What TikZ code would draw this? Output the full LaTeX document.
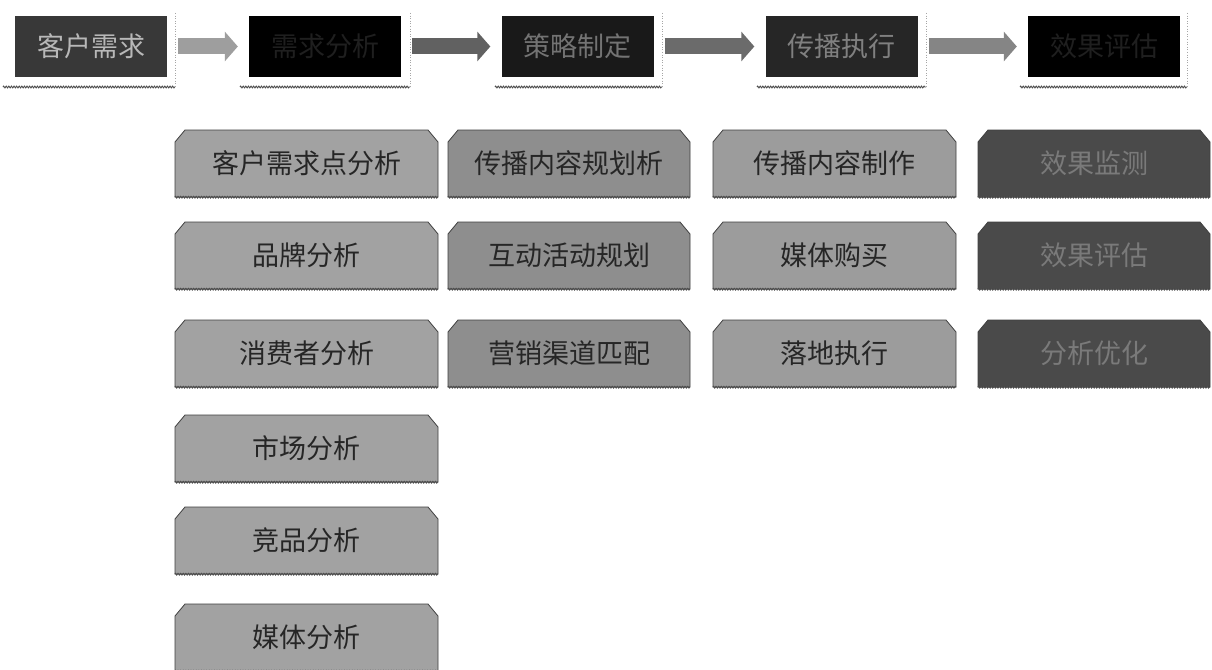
\documentclass[tikz,border=0pt]{standalone}
\usepackage{fontspec}
\newfontfamily\cjk{Noto Sans CJK SC}
\usetikzlibrary{decorations.pathmorphing,arrows.meta}
\definecolor{colA}{HTML}{A2A2A2}
\definecolor{colB}{HTML}{8E8E8E}
\definecolor{colC}{HTML}{9C9C9C}
\definecolor{colD}{HTML}{4A4A4A}
\tikzset{
  x=1pt,y=-1pt,
  topbox/.style={rectangle,inner sep=0pt,minimum width=152pt,minimum height=61pt,
    font=\cjk\fontsize{27}{28}\selectfont},
  subtext/.style={rectangle,inner sep=0pt,minimum height=67pt,
    font=\cjk\fontsize{27}{28}\selectfont,text=black!85},
  subshape/.style={draw=black!75,line width=0.8pt,line join=miter},
  zz/.style={draw=black!70,line width=0.9pt,decorate,
    decoration={zigzag,amplitude=0.9pt,segment length=2.6pt}},
  dotedge/.style={draw=black!35,line width=0.6pt,dotted},
  flowarrow/.style={line width=16pt,shorten <=11pt,shorten >=11pt,
    -{Triangle[width=29pt,length=13pt]}}
}
% #1 name, #2 cx, #3 cy, #4 width, #5 fill colour, #6 text, #7 text colour
\newcommand\chbox[7]{%
  \path[subshape,fill=#5]
    ({#2-#4/2},{#3+33.5}) -- ({#2-#4/2},{#3-33.5+12}) -- ({#2-#4/2+10},{#3-33.5})
    -- ({#2+#4/2-10},{#3-33.5}) -- ({#2+#4/2},{#3-33.5+12}) -- ({#2+#4/2},{#3+33.5}) -- cycle;
  \node[subtext,text=#7,minimum width=#4pt] (#1) at (#2,#3) {#6};
  \path[zz] (#1.south west) -- (#1.south east);
}
\begin{document}
\begin{tikzpicture}
\useasboundingbox[fill=white] (0,0) rectangle (1212,669);
\clip (0,0) rectangle (1212,669);
% top row
\node[topbox,fill=black!78,text=black!28] (t1) at (91,46.5) {客户需求};
\node[topbox,fill=black,text=black!88] (t2) at (325,46.5) {需求分析};
\node[topbox,fill=black!90,text=black!55] (t3) at (577.5,46.5) {策略制定};
\node[topbox,fill=black!85,text=black!50] (t4) at (841.5,46.5) {传播执行};
\node[topbox,fill=black,text=black!88] (t5) at (1104,46.5) {效果评估};
% dotted frame edges and wavy underlines
\coordinate (u1a) at (3,87);    \coordinate (u1b) at (175,87);
\coordinate (u2a) at (240,87);  \coordinate (u2b) at (410,87);
\coordinate (u3a) at (495,87);  \coordinate (u3b) at (662,87);
\coordinate (u4a) at (757,87);  \coordinate (u4b) at (926,87);
\coordinate (u5a) at (1020,87); \coordinate (u5b) at (1187,87);
\foreach \i in {1,...,5}{
  \path[zz] (u\i a) -- (u\i b);
  \path[dotedge] (u\i b) ++(0,-74) coordinate (v\i) -- (u\i b);
}
% arrows
\draw[flowarrow,draw=black!38,fill=black!38] (t1.east) -- (t2.west);
\draw[flowarrow,draw=black!62,fill=black!62] (t2.east) -- (t3.west);
\draw[flowarrow,draw=black!58,fill=black!58] (t3.east) -- (t4.west);
\draw[flowarrow,draw=black!48,fill=black!48] (t4.east) -- (t5.west);
% column 1
\chbox{a1}{306.5}{163.5}{263}{colA}{客户需求点分析}{black!85}
\chbox{a2}{306.5}{255.5}{263}{colA}{品牌分析}{black!85}
\chbox{a3}{306.5}{353.5}{263}{colA}{消费者分析}{black!85}
\chbox{a4}{306.5}{448.5}{263}{colA}{市场分析}{black!85}
\chbox{a5}{306.5}{540.5}{263}{colA}{竞品分析}{black!85}
\chbox{a6}{306.5}{637.5}{263}{colA}{媒体分析}{black!85}
% column 2
\chbox{b1}{569}{163.5}{242}{colB}{传播内容规划析}{black!85}
\chbox{b2}{569}{255.5}{242}{colB}{互动活动规划}{black!85}
\chbox{b3}{569}{353.5}{242}{colB}{营销渠道匹配}{black!85}
% column 3
\chbox{c1}{834.5}{163.5}{243}{colC}{传播内容制作}{black!85}
\chbox{c2}{834.5}{255.5}{243}{colC}{媒体购买}{black!85}
\chbox{c3}{834.5}{353.5}{243}{colC}{落地执行}{black!85}
% column 4
\chbox{d1}{1094}{163.5}{232}{colD}{效果监测}{black!52}
\chbox{d2}{1094}{255.5}{232}{colD}{效果评估}{black!52}
\chbox{d3}{1094}{353.5}{232}{colD}{分析优化}{black!52}
\end{tikzpicture}
\end{document}
